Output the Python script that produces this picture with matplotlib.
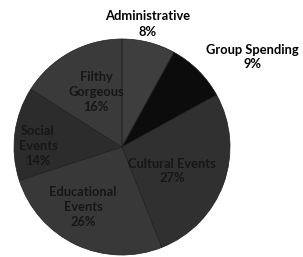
import matplotlib
matplotlib.use("Agg")
import matplotlib.pyplot as plt

categories = ["Administrative", "Group Spending", "Cultural Events",
              "Educational Events", "Social Events", "Filthy Gorgeous"]
values = [8, 9, 27, 26, 14, 16]
display_labels = ["Administrative", "Group Spending", "Cultural Events",
                  "Educational\nEvents", "Social\nEvents", "Filthy\nGorgeous"]
colors = ["#3e3e3e", "#0c0c0c", "#303030", "#383838", "#2c2c2c", "#3a3a3a"]

W, H = 303, 257
fig = plt.figure(figsize=(W / 100, H / 100), dpi=100)
ax = fig.add_axes([0, 0, 1, 1])
ax.set_xlim(0, W)
ax.set_ylim(0, H)
ax.set_aspect("equal")
ax.axis("off")

cx, cy, r = 122, H - 147, 108
wedges, _ = ax.pie(values, colors=colors, startangle=90, counterclock=False,
                   center=(cx, cy), radius=r,
                   wedgeprops=dict(linewidth=0.5, edgecolor="#1e1e1e"))
ax.set_xlim(0, W)
ax.set_ylim(0, H)

font = dict(family="Lato", weight="bold", fontsize=9.3, ha="center", va="center",
            linespacing=1.3)
# label positions (pixels from top-left)
pos = {
    0: (148, 24, "black"),
    1: (252, 57, "black"),
    2: (172, 171, "#161616"),
    3: (83, 207, "#161616"),
    4: (38, 146, "#161616"),
    5: (96, 92, "#161616"),
}
for i, (x, y, c) in pos.items():
    ax.text(x, H - y, f"{display_labels[i]}\n{values[i]}%", color=c, **font)

fig.savefig("out.png", dpi=100)
